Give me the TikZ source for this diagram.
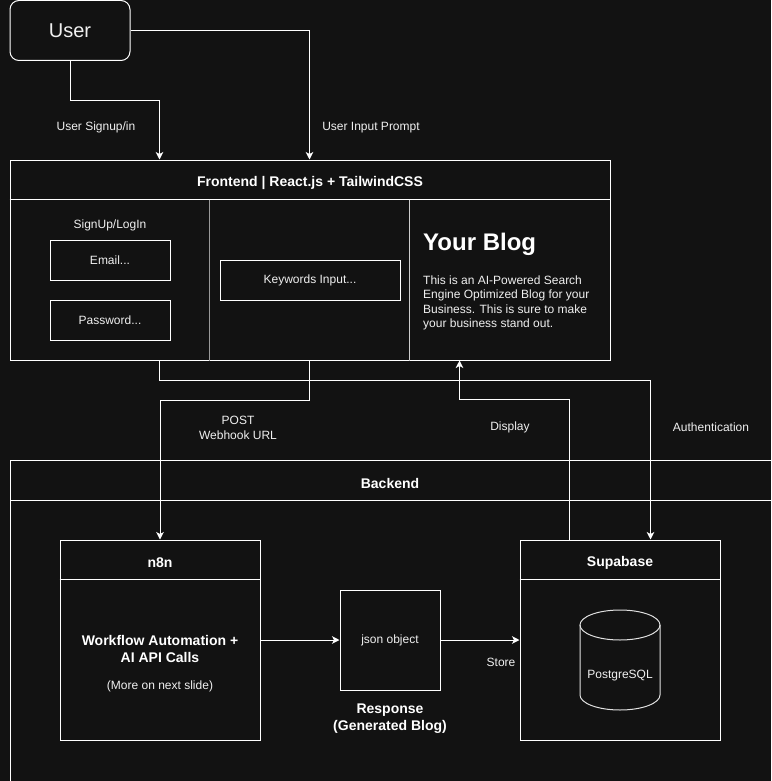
\documentclass[tikz,border=0pt]{standalone}
\usepackage{fontspec}
\setmainfont{Liberation Sans}
\usetikzlibrary{arrows.meta,calc}
\definecolor{bg}{HTML}{121212}
\definecolor{fg}{HTML}{F0F0F0}
\begin{document}
\begin{tikzpicture}[x=1pt,y=-1pt,
  frame/.style={draw=white,line width=1pt,inner sep=0pt,text=fg},
  lbl/.style={text=fg,font=\fontsize{12}{15}\selectfont,inner sep=0pt,align=center,yshift=-1.5pt},
  hdr/.style={text=white,font=\bfseries\fontsize{14}{17}\selectfont,inner sep=0pt,align=center,yshift=-1.5pt},
  conn/.style={draw=white,line width=1pt,-{Stealth[length=7.5pt,width=7.5pt,inset=2pt]}},
  plain/.style={draw=white,line width=1pt}]
\fill[bg] (0,0) rectangle (771,781);
\useasboundingbox (0,0) rectangle (771,781);
\clip (0,0) rectangle (771,781);

% User
\node[frame,rounded corners=9pt,minimum width=120pt,minimum height=60pt,
      font=\fontsize{20}{24}\selectfont] (user) at (70,30.5) {\raisebox{-1.5pt}{User}};

% Frontend container
\node[frame,minimum width=600pt,minimum height=200pt] (fe) at (310,260) {};
\draw[plain] ([yshift=-40pt]fe.north west) -- ([yshift=-40pt]fe.north east);
\node[hdr] (fetitle) at (310,181) {Frontend | React.js + TailwindCSS};
\draw[gray!80,line width=1.4pt] ($(fe.north west)+(200,40)$) -- ($(fe.south west)+(200,0)$);
\draw[white!80!black,line width=1pt] ($(fe.north west)+(400,40)$) -- ($(fe.south west)+(400,0)$);

\node[lbl] (signup) at (110,224) {SignUp/LogIn};
\node[frame,lbl,minimum width=120pt,minimum height=40pt,yshift=1.5pt] (email) at (110,260) {\raisebox{-1.5pt}{Email...}};
\node[frame,lbl,minimum width=120pt,minimum height=40pt,yshift=1.5pt] (password) at (110,320) {\raisebox{-1.5pt}{Password...}};
\node[frame,lbl,minimum width=180pt,minimum height=40pt,yshift=1.5pt] (keywords) at (310,280) {\raisebox{-1.5pt}{Keywords Input...}};

\node[anchor=base west,text=white,font=\bfseries\fontsize{24}{28}\selectfont,inner sep=0pt] (blogtitle) at (423,250) {Your Blog};
\node[lbl,anchor=north west,align=left,font=\fontsize{12}{14.5}\selectfont,yshift=1pt] (blogtext) at (423,275)
  {This is an AI-Powered Search\\Engine Optimized Blog for your\\Business. This is sure to make\\your business stand out.};

% Backend container
\node[frame,anchor=north west,minimum width=762pt,minimum height=330pt] (be) at (10,460) {};
\draw[plain] ([yshift=-40pt]be.north west) -- ([yshift=-40pt]be.north east);
\node[hdr] (betitle) at (390,481.5) {Backend};

% n8n
\node[frame,minimum width=200pt,minimum height=200pt] (n8n) at (160,640) {};
\draw[plain] ([yshift=-40pt]n8n.north west) -- ([yshift=-40pt]n8n.north east);
\node[hdr] (n8ntitle) at (160,561) {n8n};
\node[hdr] (n8nbody) at (160,647) {Workflow Automation +\\AI API Calls};
\node[lbl] (n8nmore) at (160,685) {(More on next slide)};

% json object
\node[frame,lbl,minimum width=100pt,minimum height=100pt,yshift=1.5pt] (json) at (390,640) {\raisebox{-1.5pt}{json object}};
\node[hdr] (resp) at (390,717) {Response\\(Generated Blog)};

% Supabase
\node[frame,minimum width=200pt,minimum height=200pt] (supa) at (620,640) {};
\draw[plain] ([yshift=-40pt]supa.north west) -- ([yshift=-40pt]supa.north east);
\node[hdr] (supatitle) at (620,561) {Supabase};
\draw[white!88!black,line width=1pt] (580,625) -- (580,695) arc[start angle=180,end angle=360,x radius=40pt,y radius=15pt] -- (660,625);
\draw[white!88!black,line width=1pt] (620,625) ellipse[x radius=40pt,y radius=15pt];
\node[lbl] (pg) at (620,674) {PostgreSQL};

% connection points
\coordinate (feA) at ($(fe.north west)+(150,0)$);
\coordinate (feB) at ($(fe.north west)+(300,0)$);
\coordinate (feC) at ($(fe.south west)+(150,0)$);
\coordinate (feD) at ($(fe.south west)+(300,0)$);
\coordinate (feE) at ($(fe.south west)+(450,0)$);
\coordinate (supA) at ($(supa.north west)+(131,0)$);
\coordinate (supB) at ($(supa.north west)+(50,0)$);

% connectors
\draw[conn] (user.south) -- ++(0,40) -| (feA);
\draw[conn] (user.east) -| (feB);
\draw[conn] (feC) -- ++(0,20) -| (supA);
\draw[conn] (feD) -- ++(0,40) -| (n8n.north);
\draw[conn] (supB) -- ++(0,-140) -| (feE);
\draw[conn] (n8n.east) -- (json.west);
\draw[conn] (json.east) -- (supa.west);

% labels
\node[lbl] (l1) at (96,126) {User Signup/in};
\node[lbl] (l2) at (371,126) {User Input Prompt};
\node[lbl] (l3) at (238,426) {POST\\Webhook URL};
\node[lbl] (l4) at (510,426) {Display};
\node[lbl] (l5) at (711,426) {Authentication};
\node[lbl] (l6) at (501,661) {Store};
\end{tikzpicture}
\end{document}
